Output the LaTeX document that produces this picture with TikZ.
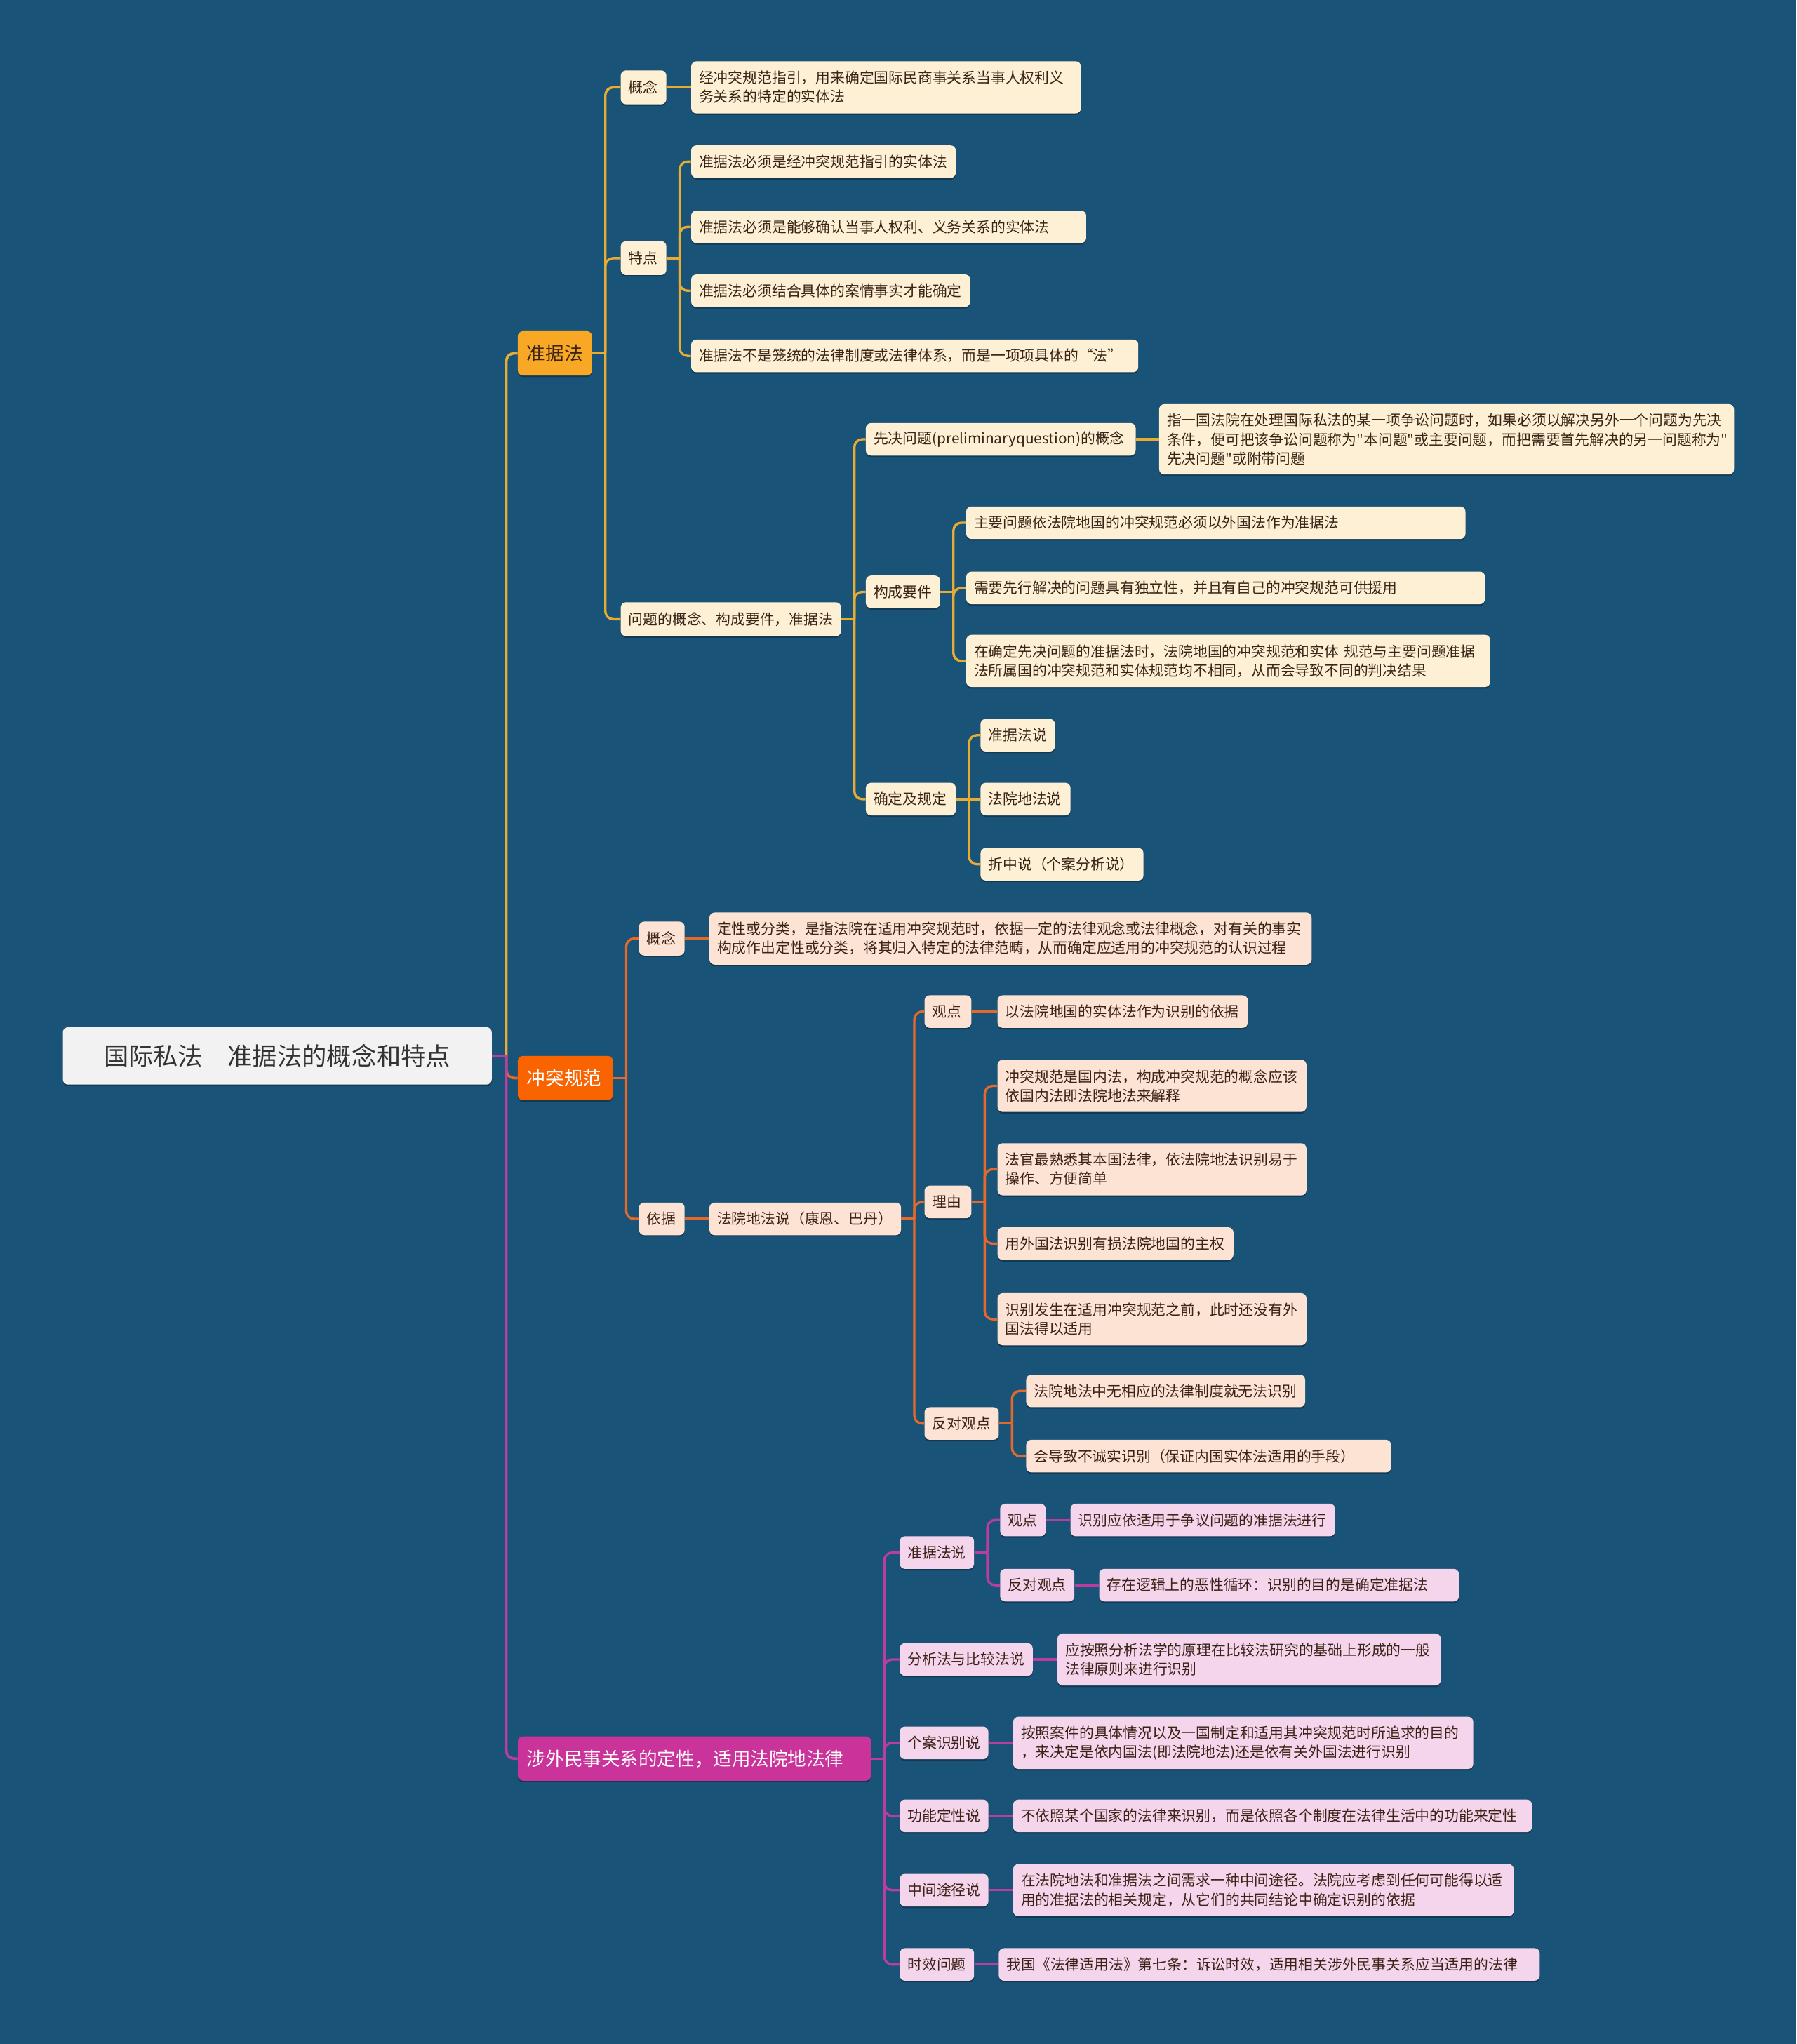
\documentclass[tikz,border=0pt]{standalone}
\usepackage{fontspec}
\setmainfont{Noto Sans CJK SC}
\newfontfamily\plainfont{Noto Sans CJK SC}
\usetikzlibrary{shadows}
\definecolor{bg}{HTML}{1A5378}
\definecolor{yL}{HTML}{F9A825}
\definecolor{yLine}{HTML}{E8AC33}
\definecolor{yFill}{HTML}{FEF0D4}
\definecolor{oL}{HTML}{F96400}
\definecolor{oLine}{HTML}{E4692A}
\definecolor{oFill}{HTML}{FDE3D4}
\definecolor{mL}{HTML}{C9339A}
\definecolor{mLine}{HTML}{BA3D9F}
\definecolor{mFill}{HTML}{F4D5EB}
\definecolor{tD}{HTML}{3A2418}
\definecolor{rootF}{HTML}{F2F2F2}
\definecolor{rootT}{HTML}{333333}
\newcommand\mmfork[3]{%
  \draw[#1] (#2.east) -- ++(10,0) coordinate (#2-bus);
  \foreach \cn in {#3} {\draw[#1, rounded corners=6pt] (#2-bus) |- (\cn.west);}
}
\begin{document}
\begin{tikzpicture}[x=1pt,y=-1pt,
  box/.style={rounded corners=4pt, inner xsep=6pt, inner ysep=2pt, anchor=west, align=left,
    font=\fontsize{11.2}{14.6}\selectfont, text=tD, minimum height=25pt,
    drop shadow={shadow xshift=0pt, shadow yshift=-1.2pt, opacity=0.3, fill=black}},
  bY/.style={box, fill=yFill},
  bO/.style={box, fill=oFill},
  bM/.style={box, fill=mFill},
  lone/.style={box, font=\fontsize{14.3}{17}\selectfont, inner xsep=7pt, minimum height=34pt},
  rootbox/.style={rounded corners=4pt, fill=rootF, text=rootT, anchor=west, minimum width=329pt,
    minimum height=44pt, inner xsep=0pt, font=\fontsize{19}{22}\selectfont,
    drop shadow={shadow xshift=0pt, shadow yshift=-1.2pt, opacity=0.3, fill=black}},
  lnY/.style={draw=yLine, line width=1.8pt},
  lnO/.style={draw=oLine, line width=1.8pt},
  lnM/.style={draw=mLine, line width=1.8pt},
  two/.style={minimum height=40pt},
  three/.style={minimum height=54pt}
]
\fill[bg] (0,0) rectangle (1378,1568);
\useasboundingbox (0,0) rectangle (1378,1568);

% ---------- nodes ----------
\node[rootbox] (root) at (48,810) {国际私法　准据法的概念和特点};

\node[lone, fill=yL, text=tD, text width=43pt] (zj) at (397,271) {准据法};
\node[lone, fill=oL, text=white, text width=59pt] (ct) at (397,827) {冲突规范};
\node[lone, fill=mL, text=white, text width=257pt] (sw) at (397,1349) {涉外民事关系的定性，适用法院地法律};

% yellow branch
\node[bY, text width=23pt, minimum height=26pt] (zjgn) at (476,67) {概念};
\node[bY, text width=23pt, minimum height=26pt] (zjtd) at (476,198) {特点};
\node[bY, text width=157pt, minimum height=26pt] (zjwt) at (476,475) {问题的概念、构成要件，准据法};

\node[bY, two, text width=287pt] (zjgnL) at (530,67) {经冲突规范指引，用来确定国际民商事关系当事人权利义\\务关系的特定的实体法};

\node[bY, text width=191pt] (td1) at (530,124) {准据法必须是经冲突规范指引的实体法};
\node[bY, text width=291pt] (td2) at (530,174) {准据法必须是能够确认当事人权利、义务关系的实体法};
\node[bY, text width=202pt] (td3) at (530,223) {准据法必须结合具体的案情事实才能确定};
\node[bY, text width=331pt] (td4) at (530,273) {准据法不是笼统的法律制度或法律体系，而是一项项具体的“法”};

\node[bY, text width=195pt] (xj) at (664,337) {先决问题(preliminaryquestion)的概念};
\node[bY, three, text width=429pt, font=\plainfont\fontsize{11.2}{14.6}\selectfont] (xjL) at (889,337) {指一国法院在处理国际私法的某一项争讼问题时，如果必须以解决另外一个问题为先决\\条件，便可把该争讼问题称为"本问题"或主要问题，而把需要首先解决的另一问题称为"\\先决问题"或附带问题};

\node[bY, text width=45pt] (gc) at (664,454) {构成要件};
\node[bY, text width=371pt] (gc1) at (741,401) {主要问题依法院地国的冲突规范必须以外国法作为准据法};
\node[bY, text width=386pt] (gc2) at (741,451) {需要先行解决的问题具有独立性，并且有自己的冲突规范可供援用};
\node[bY, two, text width=390pt] (gc3) at (741,507) {在确定先决问题的准据法时，法院地国的冲突规范和实体 规范与主要问题准据\\法所属国的冲突规范和实体规范均不相同，从而会导致不同的判决结果};

\node[bY, text width=57pt] (qd) at (664,613) {确定及规定};
\node[bY, text width=45pt] (qd1) at (752,564) {准据法说};
\node[bY, text width=57pt] (qd2) at (752,613) {法院地法说};
\node[bY, text width=113pt] (qd3) at (752,663) {折中说（个案分析说）};

% orange branch
\node[bO, text width=23pt, minimum height=26pt] (ctgn) at (490,720) {概念};
\node[bO, two, text width=450pt] (ctgnL) at (544,720) {定性或分类，是指法院在适用冲突规范时，依据一定的法律观念或法律概念，对有关的事实\\构成作出定性或分类，将其归入特定的法律范畴，从而确定应适用的冲突规范的认识过程};
\node[bO, text width=23pt] (ctyj) at (490,935) {依据};
\node[bO, text width=135pt] (fy) at (544,935) {法院地法说（康恩、巴丹）};

\node[bO, text width=24pt] (gd) at (709,776) {观点};
\node[bO, text width=180pt] (gdL) at (765,776) {以法院地国的实体法作为识别的依据};

\node[bO, text width=24pt] (ly) at (709,922) {理由};
\node[bO, two, text width=225pt] (ly1) at (765,833) {冲突规范是国内法，构成冲突规范的概念应该\\依国内法即法院地法来解释};
\node[bO, two, text width=225pt] (ly2) at (765,897) {法官最熟悉其本国法律，依法院地法识别易于\\操作、方便简单};
\node[bO, text width=169pt] (ly3) at (765,954) {用外国法识别有损法院地国的主权};
\node[bO, two, text width=225pt] (ly4) at (765,1012) {识别发生在适用冲突规范之前，此时还没有外\\国法得以适用};

\node[bO, text width=45pt] (fd) at (709,1092) {反对观点};
\node[bO, text width=202pt] (fd1) at (787,1067) {法院地法中无相应的法律制度就无法识别};
\node[bO, text width=268pt] (fd2) at (787,1117) {会导致不诚实识别（保证内国实体法适用的手段）};

% magenta branch
\node[bM, text width=45pt] (zs) at (690,1191) {准据法说};
\node[bM, text width=23pt] (zsgd) at (767,1166) {观点};
\node[bM, text width=191pt] (zsgdL) at (821,1166) {识别应依适用于争议问题的准据法进行};
\node[bM, text width=45pt] (zsfd) at (767,1216) {反对观点};
\node[bM, text width=264pt] (zsfdL) at (843,1216) {存在逻辑上的恶性循环：识别的目的是确定准据法};

\node[bM, text width=90pt] (fx) at (690,1273) {分析法与比较法说};
\node[bM, two, text width=282pt] (fxL) at (811,1273) {应按照分析法学的原理在比较法研究的基础上形成的一般\\法律原则来进行识别};

\node[bM, text width=56pt] (ga) at (690,1337) {个案识别说};
\node[bM, two, text width=341pt] (gaL) at (777,1337) {按照案件的具体情况以及一国制定和适用其冲突规范时所追求的目的\\，来决定是依内国法(即法院地法)还是依有关外国法进行识别};

\node[bM, text width=56pt] (gn) at (690,1393) {功能定性说};
\node[bM, text width=386pt] (gnL) at (777,1393) {不依照某个国家的法律来识别，而是依照各个制度在法律生活中的功能来定性};

\node[bM, text width=56pt] (zt) at (690,1450) {中间途径说};
\node[bM, two, text width=372pt] (ztL) at (777,1450) {在法院地法和准据法之间需求一种中间途径。法院应考虑到任何可能得以适\\用的准据法的相关规定，从它们的共同结论中确定识别的依据};

\node[bM, text width=45pt] (sx) at (690,1507) {时效问题};
\node[bM, text width=403pt] (sxL) at (766,1507) {我国《法律适用法》第七条：诉讼时效，适用相关涉外民事关系应当适用的法律};

% ---------- connectors ----------
\draw[lnM, line width=2pt] (root.east) -- ++(11,0) coordinate (rootbus);
\draw[lnY, line width=2pt, rounded corners=6pt] (rootbus) |- (zj.west);
\draw[lnO, line width=2pt, rounded corners=6pt] (rootbus) |- (ct.west);
\draw[lnM, line width=2pt, rounded corners=6pt] (rootbus) |- (sw.west);
\draw[lnM, line width=2pt] (root.east) -- (rootbus);

% yellow
\mmfork{lnY}{zj}{zjgn,zjtd,zjwt}
\draw[lnY] (zjgn.east) -- (zjgnL.west);
\mmfork{lnY}{zjtd}{td1,td2,td3,td4}
\mmfork{lnY}{zjwt}{xj,gc,qd}
\draw[lnY] (xj.east) -- (xjL.west);
\mmfork{lnY}{gc}{gc1,gc2,gc3}
\mmfork{lnY}{qd}{qd1,qd3}
\draw[lnY] (qd-bus) -- (qd2.west);

% orange
\mmfork{lnO}{ct}{ctgn,ctyj}
\draw[lnO] (ctgn.east) -- (ctgnL.west);
\draw[lnO] (ctyj.east) -- (fy.west);
\mmfork{lnO}{fy}{gd,ly,fd}
\draw[lnO] (gd.east) -- (gdL.west);
\mmfork{lnO}{ly}{ly1,ly2,ly3,ly4}
\mmfork{lnO}{fd}{fd1,fd2}

% magenta
\mmfork{lnM}{sw}{zs,fx,ga,gn,zt,sx}
\mmfork{lnM}{zs}{zsgd,zsfd}
\draw[lnM] (zsgd.east) -- (zsgdL.west);
\draw[lnM] (zsfd.east) -- (zsfdL.west);
\draw[lnM] (fx.east) -- (fxL.west);
\draw[lnM] (ga.east) -- (gaL.west);
\draw[lnM] (gn.east) -- (gnL.west);
\draw[lnM] (zt.east) -- (ztL.west);
\draw[lnM] (sx.east) -- (sxL.west);
\end{tikzpicture}
\end{document}
